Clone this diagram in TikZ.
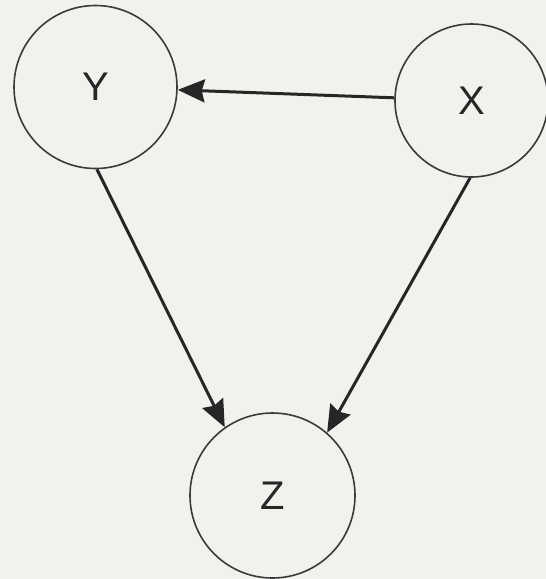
\documentclass[tikz,border=0pt]{standalone}
\usepackage{fontspec}
\setmainfont{Liberation Sans}
\usetikzlibrary{arrows.meta}
\definecolor{bg}{HTML}{F1F1EE}
\definecolor{ink}{HTML}{3A3A3A}
\definecolor{arr}{HTML}{262626}
\begin{document}
\begin{tikzpicture}[x=1pt,y=-1pt,
  var/.style={circle,draw=ink,line width=1.6pt,inner sep=0pt,text=arr,
    font=\fontsize{40}{46}\selectfont},
  link/.style={draw=arr,line width=3pt,-{Stealth[length=27pt,width=23pt,inset=3pt]}}]
\fill[bg] (0,0) rectangle (546,579);
\useasboundingbox (0,0) rectangle (546,579);
\node[var,minimum size=163pt] (Y) at (95.5,87) {Y};
\node[var,minimum size=153pt] (X) at (471.5,100.5) {X};
\node[var,minimum size=165pt] (Z) at (272.5,495.5) {Z};
\draw[link] (X.178) -- (Y.-2);
\draw[link] (Y.-89) -- (Z.125);
\draw[link] (X.-91) -- (Z.49);
\end{tikzpicture}
\end{document}
